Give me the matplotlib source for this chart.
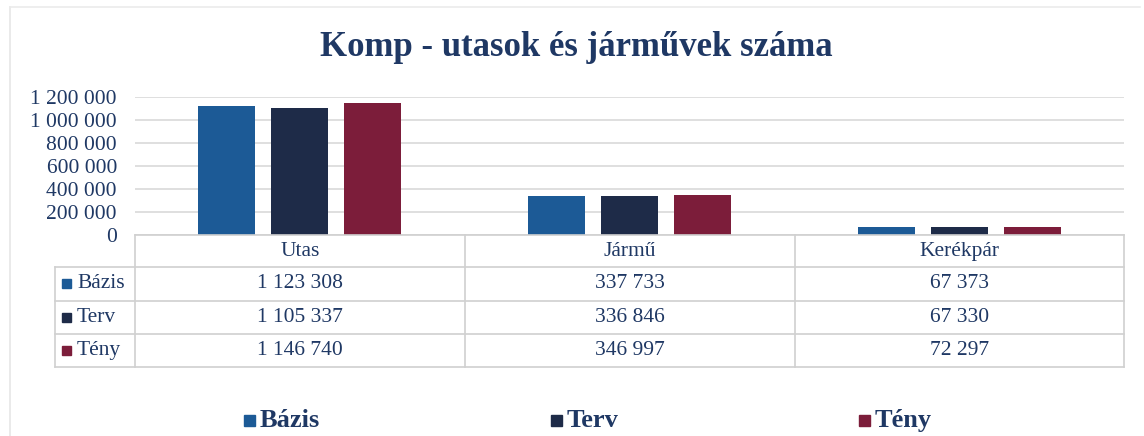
import numpy as np
import matplotlib.pyplot as plt
from matplotlib.lines import Line2D
from matplotlib.patches import Rectangle

categories = ['Utas', 'Jármű', 'Kerékpár']
series = ['Bázis', 'Terv', 'Tény']
bazis = [1123308, 337733, 67373]
terv = [1105337, 336846, 67330]
teny = [1146740, 346997, 72297]
yticks = [0, 200000, 400000, 600000, 800000, 1000000, 1200000]

colors = ['#1C5A96', '#1E2B48', '#7C1D3A']
text_color = '#1F3864'
grid_color = '#D9D9D9'

plt.rcParams['font.family'] = ['Liberation Serif', 'DejaVu Serif']

W, H = 1144, 436
fig = plt.figure(figsize=(W / 100, H / 100), dpi=100)

def fx(x):
    return x / W

def fy(y):
    return 1 - y / H

def fmt(v):
    return f'{v:,}'.replace(',', ' ')

# outer frame (light)
fig.add_artist(Line2D([fx(10), fx(10)], [fy(7), 0], color='#E6E6E6', lw=1.2))
fig.add_artist(Line2D([fx(10), fx(1140)], [fy(7), fy(7)], color='#EBEBEB', lw=1.2))

fig.text(fx(576), fy(47), 'Komp - utasok és járművek száma', ha='center', va='center',
         fontsize=25, fontweight='bold', color=text_color)

# plot area
x0, x1, ytop, ybot = 135, 1124, 97, 235
ax = fig.add_axes([fx(x0), fy(ybot), fx(x1 - x0), (ybot - ytop) / H])
x = np.arange(len(categories))
bw = 0.173
step = 0.221
for i, (vals, c) in enumerate(zip([bazis, terv, teny], colors)):
    ax.bar(x + (i - 1) * step, vals, width=bw, color=c, zorder=3)
ax.set_xlim(-0.5, len(categories) - 0.5)
ax.set_ylim(0, 1200000)
ax.set_yticks(yticks)
ax.set_yticklabels([fmt(v) for v in yticks], fontsize=15.5, color=text_color)
ax.tick_params(axis='y', length=0, pad=13)
ax.set_xticks([])
ax.grid(axis='y', color=grid_color, lw=1.2, zorder=0)
for s in ax.spines.values():
    s.set_visible(False)

# data table
line_kw = dict(color='#D0D0D0', lw=1.2)
rows_y = [235, 267, 301, 334, 367]
col_x = [135, 465, 795, 1124]
fig.add_artist(Line2D([fx(135), fx(1124)], [fy(235), fy(235)], **line_kw))
for yy in rows_y[1:]:
    fig.add_artist(Line2D([fx(55), fx(1124)], [fy(yy), fy(yy)], **line_kw))
for xx in col_x:
    fig.add_artist(Line2D([fx(xx), fx(xx)], [fy(235), fy(367)], **line_kw))
fig.add_artist(Line2D([fx(55), fx(55)], [fy(267), fy(367)], **line_kw))

for j, cat in enumerate(categories):
    cx = (col_x[j] + col_x[j + 1]) / 2
    fig.text(fx(cx), fy(251), cat, ha='center', va='center', fontsize=15.5, color=text_color)

for i, (name, vals, c) in enumerate(zip(series, [bazis, terv, teny], colors)):
    cy = (rows_y[i + 1] + rows_y[i + 2]) / 2
    fig.add_artist(Rectangle((fx(62), fy(cy + 4)), fx(9), 9 / H, color=c))
    fig.text(fx(77), fy(cy), name, ha='left', va='center', fontsize=15.5, color=text_color)
    for j, v in enumerate(vals):
        cx = (col_x[j] + col_x[j + 1]) / 2
        fig.text(fx(cx), fy(cy), fmt(v), ha='center', va='center', fontsize=15.5, color=text_color)

# legend
for name, c, lx in zip(series, colors, [244, 551, 859]):
    fig.add_artist(Rectangle((fx(lx), fy(426)), fx(11), 11 / H, color=c))
    fig.text(fx(lx + 16), fy(420), name, ha='left', va='center', fontsize=19,
             fontweight='bold', color=text_color)

fig.savefig('out.png', dpi=100)
